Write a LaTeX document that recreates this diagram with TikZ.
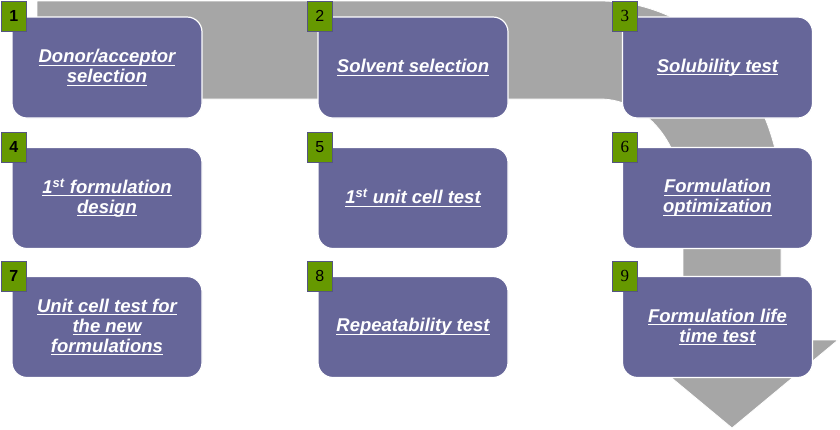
\documentclass[tikz,border=0pt]{standalone}
\usepackage{fontspec}
\setmainfont{Liberation Sans}
\newfontfamily\serifnum{Liberation Serif}
\definecolor{boxfill}{RGB}{102,102,153}
\definecolor{arrowgray}{RGB}{166,166,166}
\definecolor{badgegreen}{RGB}{102,153,0}
\definecolor{badgeline}{RGB}{85,85,130}
\newsavebox\ulbox
\newcommand\ulin[1]{\sbox\ulbox{#1}\rlap{\rule[-3pt]{\wd\ulbox}{1.1pt}}\usebox\ulbox}
\tikzset{
  stepbox/.style={draw=white, line width=1.2pt, fill=boxfill, rounded corners=15pt,
    minimum width=190pt, minimum height=101pt, inner sep=0pt, text=white,
    font=\fontsize{18.5}{20}\selectfont\bfseries\itshape, align=center},
  badge/.style={draw=badgeline, line width=0.8pt, fill=badgegreen,
    minimum width=25pt, minimum height=30pt, inner sep=0pt, anchor=north west,
    font=\fontsize{16}{16}\selectfont},
  flowarrow/.style={fill=arrowgray, draw=white, line width=0.8pt}
}
\begin{document}
\begin{tikzpicture}[x=1pt,y=-1pt]
\useasboundingbox (0,0) rectangle (840,429);
% big gray process arrow
\path[flowarrow] (37,1) -- (600,1)
  .. controls (700,1) and (781,90.1) .. (781,200)
  -- (781,340) -- (838,340) -- (732,428) -- (626,340) -- (683,340) -- (683,200)
  .. controls (683,144.2) and (645.8,99) .. (600,99)
  -- (37,99) -- cycle;
% step boxes
\node[stepbox] (s1) at (107,67.5) {\ulin{Donor/acceptor}\\\ulin{selection}};
\node[stepbox] (s2) at (413,67.5) {\ulin{Solvent selection}};
\node[stepbox] (s3) at (717.5,67.5) {\ulin{Solubility test}};
\node[stepbox] (s4) at (107,198) {\ulin{1\textsuperscript{st} formulation}\\\ulin{design}};
\node[stepbox] (s5) at (413,198) {\ulin{1\textsuperscript{st} unit cell test}};
\node[stepbox] (s6) at (717.5,198) {\ulin{Formulation}\\\ulin{optimization}};
\node[stepbox] (s7) at (107,327) {\ulin{Unit cell test for}\\\ulin{the new}\\\ulin{formulations}};
\node[stepbox] (s8) at (413,327) {\ulin{Repeatability test}};
\node[stepbox] (s9) at (717.5,327) {\ulin{Formulation life}\\\ulin{time test}};
% number badges
\node[badge, font=\fontsize{16}{16}\selectfont\bfseries] (b1) at (1,1) {1};
\node[badge] (b2) at (307,1) {2};
\node[badge, font=\fontsize{17}{17}\selectfont\serifnum] (b3) at (612,1) {3};
\node[badge, font=\fontsize{16}{16}\selectfont\bfseries] (b4) at (1,132) {4};
\node[badge] (b5) at (307,132) {5};
\node[badge, font=\fontsize{17}{17}\selectfont\serifnum] (b6) at (612,132) {6};
\node[badge, font=\fontsize{16}{16}\selectfont\bfseries] (b7) at (1,261) {7};
\node[badge] (b8) at (307,261) {8};
\node[badge, font=\fontsize{17}{17}\selectfont\serifnum] (b9) at (612,261) {9};
\end{tikzpicture}
\end{document}
